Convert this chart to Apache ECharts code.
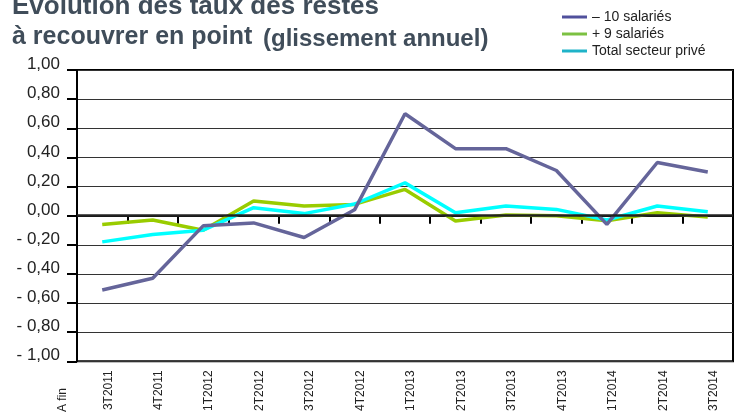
<!DOCTYPE html>
<html>
<head>
<meta charset="utf-8">
<title></title>
<script type="text/javascript" src="https://cdn.jsdelivr.net/npm/echarts@6/dist/echarts.min.js"></script>
<style>
	html, body { margin: 0; padding: 0; background: #fff; }
</style>
</head>
<body>

<div id="main" style="width: 739px;height:414px;"></div>

<script type="text/javascript">

let QUARTERS = ['3T2011','4T2011','1T2012','2T2012','3T2012','4T2012','1T2013','2T2013','3T2013','4T2013','1T2014','2T2014','3T2014'];
let MOINS_10 = [-0.51, -0.43, -0.07, -0.05, -0.15, 0.04, 0.70, 0.46, 0.46, 0.31, -0.06, 0.365, 0.30];
let PLUS_9 = [-0.06, -0.03, -0.10, 0.10, 0.066, 0.077, 0.18, -0.036, 0.005, 0.0, -0.035, 0.02, -0.01];
let TOTAL = [-0.18, -0.13, -0.10, 0.055, 0.014, 0.08, 0.225, 0.02, 0.066, 0.043, -0.03, 0.066, 0.027];
let NAMES = ['– 10 salariés', '+ 9 salariés', 'Total secteur privé'];

let FONT = '"Liberation Sans", Arial, sans-serif';
let TITLE_COLOR = '#404d5a';

// y labels like "- 0,20"
function fmtY(v){
	let s = Math.abs(v).toFixed(2).replace('.', ',');
	return (v < -0.001 ? '- ' : '') + s;
}

function makeLine(name, data, color){
	return {
		name: name,
		type: 'line',
		data: data,
		symbol: 'none',
		lineStyle: { color: color, width: 3.5 },
		itemStyle: { color: color },
		animation: false
	};
}

var myChart = echarts.init(document.getElementById('main'));

let series = [
	makeLine(NAMES[1], PLUS_9, '#99cc00'),
	makeLine(NAMES[2], TOTAL, '#00ffff'),
	makeLine(NAMES[0], MOINS_10, '#65659a')
];
// zero line
series[0].markLine = {
	silent: true,
	symbol: 'none',
	label: { show: false },
	lineStyle: { color: '#222', width: 2.5, type: 'solid' },
	data: [{ yAxis: 0 }]
};

var option = {
	animation: false,
	textStyle: { fontFamily: FONT },
	grid: {
		left: 77, right: 6, top: 70, bottom: 51,
		show: true, borderColor: '#000', borderWidth: 2
	},
	legend: {
		orient: 'vertical',
		left: 557, top: 5,
		itemWidth: 25, itemHeight: 3, itemGap: 3,
		icon: 'rect',
		textStyle: { fontSize: 14, color: '#222', fontFamily: FONT },
		data: [
			{ name: NAMES[0], itemStyle: { color: '#50509c' } },
			{ name: NAMES[1], itemStyle: { color: '#7cc142' } },
			{ name: NAMES[2], itemStyle: { color: '#1fb3c8' } }
		]
	},
	xAxis: {
		type: 'category',
		data: QUARTERS,
		boundaryGap: true,
		axisLine: { lineStyle: { color: '#000', width: 2 } },
		axisTick: { show: true, length: 8, lineStyle: { color: '#000', width: 2 } },
		axisLabel: {
			rotate: 90, fontSize: 12, color: '#222', margin: 9,
			verticalAlign: 'top', fontFamily: FONT
		}
	},
	yAxis: {
		type: 'value',
		min: -1, max: 1, interval: 0.2,
		axisLine: { show: true, lineStyle: { color: '#000', width: 2 } },
		axisTick: { show: true, length: 10, lineStyle: { color: '#000', width: 2 } },
		axisLabel: {
			fontSize: 17, color: '#222', margin: 17,
			formatter: fmtY, verticalAlign: 'bottom', lineHeight: 11, fontFamily: FONT
		},
		splitLine: { lineStyle: { color: '#333', width: 1 } }
	},
	graphic: [
		{ type: 'text', left: 12, top: -6, style: { text: 'Evolution des taux des restes', font: 'bold 26px ' + FONT, fill: TITLE_COLOR } },
		{ type: 'text', left: 12, top: 25, style: { text: 'à recouvrer en point', font: 'bold 25px ' + FONT, fill: TITLE_COLOR } },
		{ type: 'text', left: 263, top: 27, style: { text: '(glissement annuel)', font: 'bold 24px ' + FONT, fill: TITLE_COLOR } },
		{ type: 'text', x: 63, y: 400, rotation: Math.PI / 2, style: { text: 'A fin', font: '12px ' + FONT, fill: '#222', align: 'center', verticalAlign: 'middle' } }
	],
	series: series
};

myChart.setOption(option);

</script>

</body>
</html>
